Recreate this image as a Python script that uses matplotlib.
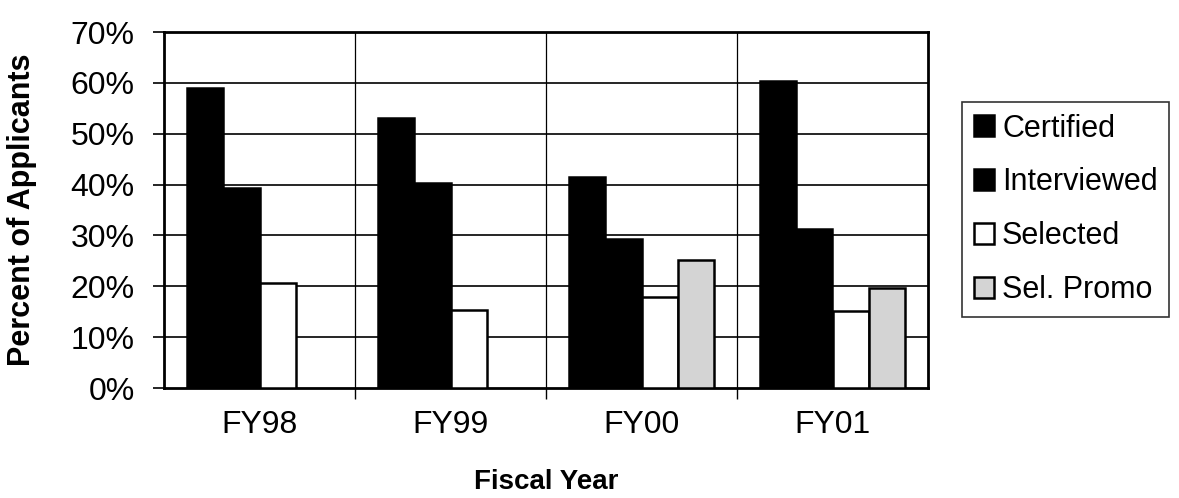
import numpy as np
import matplotlib.pyplot as plt

plt.rcParams['font.family'] = ['Liberation Sans', 'DejaVu Sans']

years = ['FY98', 'FY99', 'FY00', 'FY01']
series = ['Certified', 'Interviewed', 'Selected', 'Sel. Promo']
certified = [59.0, 53.0, 41.4, 60.3]
interviewed = [39.3, 40.3, 29.3, 31.2]
selected = [20.6, 15.4, 17.8, 15.2]
sel_promo = [np.nan, np.nan, 25.1, 19.7]

colors = ['black', 'black', 'white', '#d4d4d4']

fig = plt.figure(figsize=(11.79, 4.98), dpi=100)
ax = fig.add_axes([164 / 1179, 1 - 388 / 498, (928 - 164) / 1179, (388 - 32) / 498])

x = np.arange(len(years))
w = 0.19
data = [certified, interviewed, selected, sel_promo]
for i, (vals, name) in enumerate(zip(data, series)):
    ax.bar(x + (i - 1.5) * w, vals, w, color=colors[i], edgecolor='black',
           linewidth=1.8, label=name, zorder=3)

ax.set_xlim(-0.5, 3.5)
ax.set_ylim(0, 70)
ax.set_yticks(range(0, 71, 10))
ax.set_yticklabels([f'{v}%' for v in range(0, 71, 10)], fontsize=23)
ax.set_xticks(x)
ax.set_xticklabels(years, fontsize=23)
ax.set_xticks([0.5, 1.5, 2.5], minor=True)
ax.tick_params(axis='x', which='major', length=0, pad=16)
ax.tick_params(axis='x', which='minor', length=8, width=1, direction='out')
ax.tick_params(axis='y', length=8, width=1.2, direction='out', pad=13)

# grid
for v in range(10, 70, 10):
    ax.axhline(v, color='black', linewidth=1.2, zorder=1)
for b in [0.5, 1.5, 2.5]:
    ax.axvline(b, color='black', linewidth=0.9, zorder=1)
for s in ax.spines.values():
    s.set_linewidth(2)

ax.set_ylabel('Percent of Applicants', fontsize=22, fontweight='bold')
ax.yaxis.set_label_coords(-0.166, 0.5)
ax.set_xlabel('Fiscal Year', fontsize=20, fontweight='bold', va='center')
ax.xaxis.set_label_coords(0.5, -0.265)

leg = ax.legend(loc='upper left', bbox_to_anchor=(962 / 1179, 1 - 102 / 498),
                bbox_transform=fig.transFigure, fontsize=22, frameon=True,
                fancybox=False, edgecolor='black', handlelength=0.68,
                handleheight=0.68, handletextpad=0.25, labelspacing=0.78,
                borderpad=0.38, borderaxespad=0)
leg.get_frame().set_linewidth(1.2)

fig.savefig('out.png', dpi=100)
